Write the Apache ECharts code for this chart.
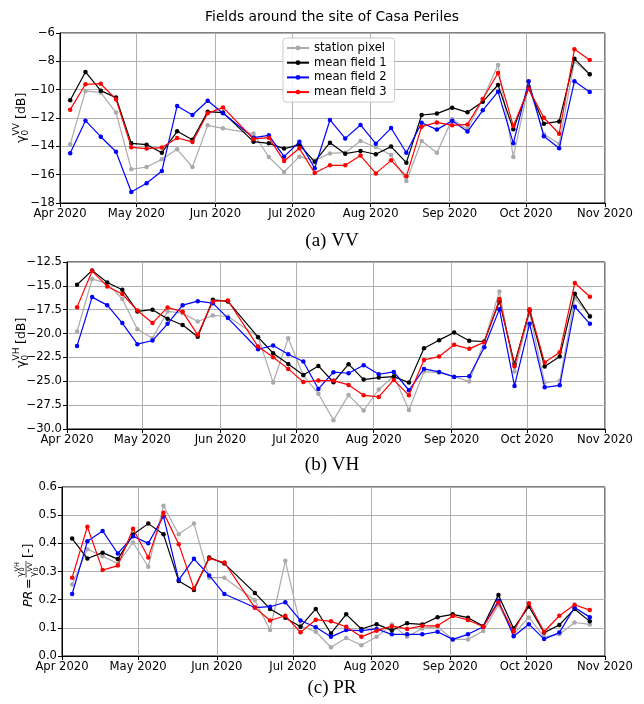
<!DOCTYPE html>
<html>
<head>
<meta charset="utf-8">
<script src="https://cdn.jsdelivr.net/npm/echarts@6/dist/echarts.min.js"></script>
<style>
html,body{margin:0;padding:0;background:#fff;}
#chart{width:644px;height:704px;}
</style>
</head>
<body>
<div id="chart"></div>
<script>
// Acquisition dates (6-day repeat, one acquisition missing on 2020-06-10)
const dates = [
  '2020-04-05','2020-04-11','2020-04-17','2020-04-23','2020-04-29',
  '2020-05-05','2020-05-11','2020-05-17','2020-05-23','2020-05-29',
  '2020-06-04','2020-06-16','2020-06-22','2020-06-28',
  '2020-07-04','2020-07-10','2020-07-16','2020-07-22','2020-07-28',
  '2020-08-03','2020-08-09','2020-08-15','2020-08-21','2020-08-27',
  '2020-09-02','2020-09-08','2020-09-14','2020-09-20','2020-09-26',
  '2020-10-02','2020-10-08','2020-10-14','2020-10-20','2020-10-26'
];
const seriesNames = ['station pixel','mean field 1','mean field 2','mean field 3'];

// VV backscatter [dB]
const vvStation = [-13.86,-10.09,-10.21,-11.62,-15.62,-15.46,-14.92,-14.21,-15.46,-12.52,-12.73,
  -13.1,-14.75,-15.81,-14.73,-15.0,-14.5,-14.45,-13.62,-14.05,-14.61,-16.45,-13.62,-14.45,
  -12.09,-12.8,-10.68,-8.26,-14.75,-9.74,-13.15,-13.81,-8.02,-8.92];
const vvField1 = [-10.75,-8.75,-10.07,-10.56,-13.79,-13.88,-14.45,-12.94,-13.53,-11.55,-11.62,
  -13.67,-13.79,-14.16,-13.9,-15.08,-13.74,-14.52,-14.33,-14.56,-14.02,-15.15,-11.79,-11.69,
  -11.27,-11.6,-10.85,-9.67,-12.8,-9.86,-12.4,-12.24,-7.81,-8.92];
const vvField2 = [-14.49,-12.19,-13.32,-14.38,-17.22,-16.61,-15.74,-11.15,-11.79,-10.78,-11.67,
  -13.39,-13.22,-14.73,-13.67,-15.55,-12.14,-13.44,-12.49,-13.81,-12.71,-14.45,-12.33,-12.82,
  -12.19,-12.96,-11.46,-10.14,-13.79,-9.41,-13.29,-14.14,-9.41,-10.16];
const vvField3 = [-11.41,-9.62,-9.58,-10.68,-14.07,-14.16,-14.09,-13.41,-13.69,-11.67,-11.25,
  -13.48,-13.39,-15.04,-14.14,-15.88,-15.34,-15.34,-14.65,-15.91,-14.99,-16.12,-12.61,-12.31,
  -12.52,-12.45,-10.66,-8.82,-12.56,-9.93,-11.98,-13.11,-7.15,-7.91];

// VH backscatter [dB]
const vhStation = [-19.78,-14.29,-14.71,-16.39,-19.54,-20.48,-17.68,-17.86,-18.73,-18.1,-18.21,
  -20.33,-25.12,-20.5,-24.4,-26.3,-29.07,-26.45,-28.06,-25.86,-24.44,-28.0,-23.98,-24.09,
  -24.5,-25.03,-20.83,-15.58,-23.98,-17.86,-25.14,-24.96,-16.28,-18.14];
const vhField1 = [-14.88,-13.38,-14.64,-15.41,-17.68,-17.5,-18.45,-19.1,-20.34,-16.46,-16.63,
  -20.38,-22.06,-23.18,-24.33,-23.39,-25.1,-23.21,-24.82,-24.61,-24.51,-25.14,-21.53,-20.69,
  -19.89,-20.76,-20.83,-16.63,-23.18,-17.58,-23.46,-22.41,-15.83,-18.2];
const vhField2 = [-21.29,-16.18,-17.02,-18.9,-21.11,-20.73,-18.98,-17.02,-16.6,-16.81,-18.38,
  -21.64,-21.25,-22.16,-22.93,-25.8,-24.05,-24.16,-23.32,-24.26,-24.02,-25.94,-23.7,-24.02,
  -24.54,-24.47,-21.43,-17.44,-25.49,-18.98,-25.63,-25.42,-17.19,-18.98];
const vhField3 = [-17.23,-13.45,-15.06,-15.86,-17.58,-18.9,-17.26,-17.72,-20.13,-16.63,-16.53,
  -21.36,-22.48,-23.7,-25.07,-24.93,-24.93,-25.38,-26.47,-26.64,-24.86,-26.47,-22.76,-22.41,
  -21.18,-21.6,-20.9,-16.39,-23.42,-17.44,-23.04,-21.95,-14.7,-16.14];

// Polarization ratio PR = VH / VV [-]
const prStation = [0.254,0.379,0.354,0.328,0.403,0.317,0.533,0.432,0.47,0.278,0.278,
  0.198,0.092,0.338,0.107,0.086,0.031,0.064,0.038,0.068,0.112,0.068,0.098,0.104,
  0.059,0.059,0.089,0.181,0.078,0.137,0.068,0.077,0.119,0.112];
const prField1 = [0.417,0.346,0.367,0.344,0.431,0.47,0.432,0.266,0.234,0.35,0.328,
  0.224,0.167,0.136,0.104,0.167,0.08,0.148,0.096,0.113,0.091,0.116,0.112,0.138,
  0.148,0.136,0.106,0.217,0.098,0.176,0.083,0.11,0.167,0.123];
const prField2 = [0.22,0.407,0.444,0.364,0.425,0.4,0.496,0.27,0.345,0.286,0.22,
  0.172,0.175,0.191,0.126,0.102,0.068,0.092,0.09,0.096,0.077,0.077,0.077,0.086,
  0.059,0.077,0.104,0.196,0.07,0.113,0.06,0.083,0.172,0.138];
const prField3 = [0.278,0.459,0.305,0.321,0.452,0.35,0.509,0.397,0.24,0.346,0.332,
  0.172,0.126,0.143,0.084,0.129,0.123,0.104,0.068,0.09,0.106,0.096,0.107,0.107,
  0.142,0.128,0.104,0.19,0.087,0.187,0.086,0.143,0.182,0.163];

const yTicksVV = {min:-18, max:-6, interval:2};
const yTicksVH = {min:-30, max:-12.5, interval:2.5};
const yTicksPR = {min:0, max:0.6, interval:0.1};

const colors = ['#aaaaaa','#000000','#0000ff','#ff0000'];
const FONT = 'DejaVu Sans';
const GRIDC = '#b0b0b0';

const chart = echarts.init(document.getElementById('chart'), null, {renderer:'canvas'});

function pairs(vals){ return dates.map((d,i)=>[d, vals[i]]); }
const minus = s => String(s).replace('-', '\u2212');

function xAxis(gi){
  return {
    type:'time', gridIndex:gi, min:'2020-04-01', max:'2020-11-01',
    splitNumber:7, minInterval:28*86400000, maxInterval:31*86400000,
    axisLine:{onZero:false, lineStyle:{color:'#000', width:1}},
    axisTick:{show:true, length:4, lineStyle:{color:'#000'}},
    splitLine:{show:true, lineStyle:{color:GRIDC, width:1}},
    axisLabel:{formatter:'{MMM} {yyyy}', color:'#000', fontFamily:FONT, fontSize:11.6, margin:5,
      showMinLabel:true, showMaxLabel:true, hideOverlap:false}
  };
}
function yAxis(gi, t, fmt){
  return {
    type:'value', gridIndex:gi, min:t.min, max:t.max, interval:t.interval,
    axisLine:{show:true, lineStyle:{color:'#000', width:1}},
    axisTick:{show:true, length:4, lineStyle:{color:'#000'}},
    splitLine:{show:true, lineStyle:{color:GRIDC, width:1}},
    axisLabel:{formatter:fmt, color:'#000', fontFamily:FONT, fontSize:11.6, margin:5}
  };
}
function lineSeries(name, vals, gi, ci){
  return {
    name:name, type:'line', xAxisIndex:gi, yAxisIndex:gi,
    data:pairs(vals), symbol:'circle', symbolSize:4.5, showSymbol:true,
    lineStyle:{color:colors[ci], width:1.2}, itemStyle:{color:colors[ci]},
    emphasis:{disabled:true}, z:2+ci
  };
}

const panels = [
  [vvStation, vvField1, vvField2, vvField3],
  [vhStation, vhField1, vhField2, vhField3],
  [prStation, prField1, prField2, prField3]
];
const series = [];
panels.forEach((p,gi)=>p.forEach((vals,ci)=>series.push(lineSeries(seriesNames[ci], vals, gi, ci))));

function txt(x,y,s,size,extra){
  return {type:'text', x:x, y:y, style:Object.assign({text:s, fill:'#000',
    font: size+'px "'+FONT+'"', textAlign:'left', textVerticalAlign:'middle'}, extra||{})};
}
function dbLabel(sup){
  return [
    txt(-25,0,'\u03b3',13),
    txt(-17.5,4,'0',9),
    txt(-17.5,-5.5,sup,9),
    txt(-1,0,'[dB]',12.5)
  ];
}

const capFont = '19px "Liberation Serif"';
const graphic = [
  {type:'text', x:332, y:17, style:{text:'Fields around the site of Casa Periles',
    font:'13.8px "'+FONT+'"', fill:'#000', textAlign:'center', textVerticalAlign:'middle'}},
  {type:'text', x:332, y:241, style:{text:'(a) VV', font:capFont, fill:'#000', textAlign:'center', textVerticalAlign:'middle'}},
  {type:'text', x:332, y:465, style:{text:'(b) VH', font:capFont, fill:'#000', textAlign:'center', textVerticalAlign:'middle'}},
  {type:'text', x:332, y:688, style:{text:'(c) PR', font:capFont, fill:'#000', textAlign:'center', textVerticalAlign:'middle'}},
  {type:'group', x:22, y:118, rotation:Math.PI/2, children:dbLabel('VV')},
  {type:'group', x:22, y:343, rotation:Math.PI/2, children:dbLabel('VH')},
  {type:'group', x:29, y:576, rotation:Math.PI/2, children:[
    txt(-31,0,'PR',12.5,{font:'italic 12.5px "'+FONT+'"'}),
    txt(-13,0,'=',12.5),
    txt(-1,-8.5,'\u03b3',9), txt(4.5,-6.5,'0',6.5), txt(4.5,-12,'VH',6.5),
    {type:'line', shape:{x1:-1.5,y1:-3,x2:15,y2:-3}, style:{stroke:'#000', lineWidth:0.7}},
    txt(-1,4.5,'\u03b3',9), txt(4.5,7,'0',6.5), txt(4.5,1.5,'VV',6.5),
    txt(18,0,'[-]',12.5)
  ]}
];

const option = {
  animation:false,
  backgroundColor:'#fff',
  textStyle:{fontFamily:FONT},
  grid:[
    {left:60, right:39, top:33, height:170, show:true, borderColor:'#000', borderWidth:1, backgroundColor:'transparent'},
    {left:67, right:39, top:262, height:167, show:true, borderColor:'#000', borderWidth:1, backgroundColor:'transparent'},
    {left:62, right:39, top:487, height:169, show:true, borderColor:'#000', borderWidth:1, backgroundColor:'transparent'}
  ],
  xAxis:[xAxis(0), xAxis(1), xAxis(2)],
  yAxis:[
    yAxis(0, yTicksVV, v=>minus(v)),
    yAxis(1, yTicksVH, v=>minus(v.toFixed(1))),
    yAxis(2, yTicksPR, v=>v.toFixed(1))
  ],
  legend:{
    data:seriesNames, orient:'vertical', left:283, top:38,
    itemWidth:22, itemHeight:6, itemGap:2.7,
    textStyle:{fontFamily:FONT, fontSize:11.6, color:'#000', lineHeight:12},
    backgroundColor:'rgba(255,255,255,0.85)', borderColor:'#cccccc', borderWidth:1, borderRadius:3,
    padding:[4,8,4,3]
  },
  graphic:graphic,
  series:series
};
chart.setOption(option);
</script>
</body>
</html>
